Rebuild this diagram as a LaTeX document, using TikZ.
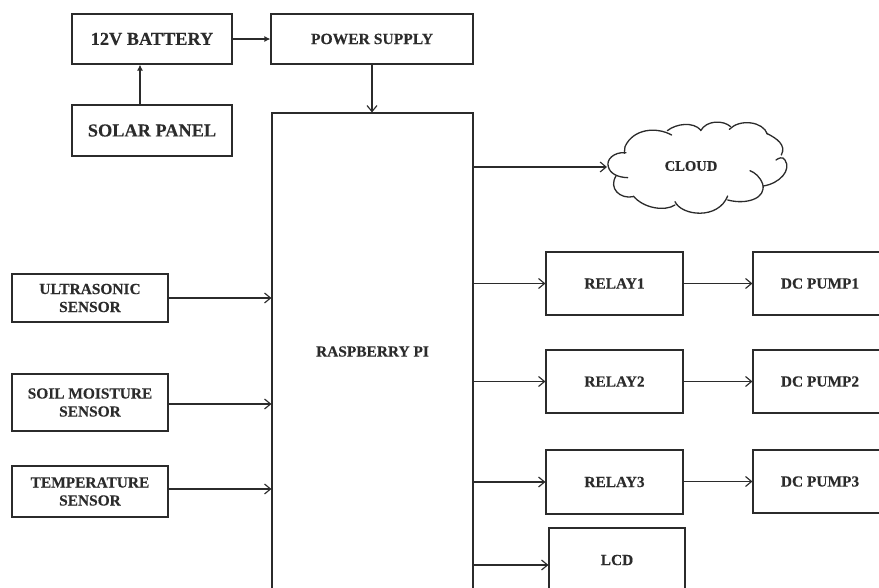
\documentclass[tikz,border=0pt]{standalone}
\usepackage{fontspec}
\setmainfont{Liberation Serif}[BoldFeatures={FakeBold=0.25}]
\usetikzlibrary{arrows.meta}
\definecolor{ink}{HTML}{2B2B2B}
\tikzset{
  blk/.style={draw=ink,line width=1.15pt,inner sep=0pt,text=ink,align=center,font=\bfseries\fontsize{15.4}{18}\selectfont},
  big/.style={font=\bfseries\fontsize{18.3}{20}\selectfont},
  mid/.style={font=\bfseries\fontsize{15.6}{18}\selectfont},
  barb/.style={draw=ink,line width=1.15pt,-{Straight Barb[length=6pt,width=10pt]}},
  solid tip/.style={draw=ink,line width=1.15pt,-{Latex[length=6pt,width=6pt]}},
  lobe/.style={draw=ink,line width=1.3pt,line cap=round}
}
\newcommand{\bx}[6][]{\node[blk,#1,minimum width=#4pt,minimum height=#5pt] (#2) at (#3) {#6};}
\begin{document}
\begin{tikzpicture}[x=1pt,y=-1pt]
\useasboundingbox (0,0) rectangle (879,587);
\clip (0,0) rectangle (879,587);
\bx[big]{bat}{152,39}{160}{50}{12V BATTERY}
\bx[big]{sol}{152,130.5}{160}{51}{SOLAR PANEL}
\bx[mid]{pow}{372,39}{202}{50}{POWER SUPPLY}
\bx{rpi}{372.5,351.5}{201}{477}{RASPBERRY PI}
\bx{us}{90,298}{156}{48}{ULTRASONIC\\SENSOR}
\bx{soil}{90,402.5}{156}{57}{SOIL MOISTURE\\SENSOR}
\bx{temp}{90,491.5}{156}{51}{TEMPERATURE\\SENSOR}
\bx{r1}{614.5,283.5}{137}{63}{RELAY1}
\bx{r2}{614.5,381.5}{137}{63}{RELAY2}
\bx{r3}{614.5,482}{137}{64}{RELAY3}
\bx{lcd}{617,560}{136}{64}{LCD}
\bx{p1}{820,283.5}{134}{63}{DC PUMP1}
\bx{p2}{820,381.5}{134}{63}{DC PUMP2}
\bx{p3}{820,481.5}{134}{63}{DC PUMP3}
\node[inner sep=0pt,text=ink,font=\bfseries\fontsize{14.6}{16}\selectfont] (cl) at (691,166) {CLOUD};
\coordinate (clin) at (607,167);
\begin{scope}[shift={(590,110)},scale=0.3333]
\draw[lobe] (108,128) .. controls (70,125) and (48,150) .. (55,170) .. controls (60,192) and (85,202) .. (113,203);
\draw[lobe] (78,198) .. controls (55,235) and (90,268) .. (130,260);
\draw[lobe] (130,258) .. controls (160,295) and (225,305) .. (255,285);
\draw[lobe] (255,275) .. controls (275,318) and (385,330) .. (413,258);
\draw[lobe] (413,270) .. controls (470,285) and (530,265) .. (518,222) .. controls (510,200) and (495,188) .. (480,182);
\draw[lobe] (520,228) .. controls (570,220) and (605,180) .. (585,150) .. controls (578,138) and (565,145) .. (558,150);
\draw[lobe] (574,135) .. controls (590,105) and (560,85) .. (530,70);
\draw[lobe] (532,72) .. controls (520,35) and (450,25) .. (418,58);
\draw[lobe] (422,50) .. controls (400,30) and (350,30) .. (332,62);
\draw[lobe] (332,60) .. controls (310,35) and (260,40) .. (232,62);
\draw[lobe] (245,75) .. controls (200,50) and (130,55) .. (105,110) -- (103,130);
\end{scope}
\draw[solid tip] (bat.east) -- (pow.west);
\draw[solid tip] ([xshift=-12pt]sol.north) -- ([xshift=-12pt]bat.south);
\draw[barb] (pow.south) -- (pow.south |- rpi.north);
\draw[barb] (rpi.east |- clin) -- (clin);
\draw[barb] (us.east) -- (us.east -| rpi.west);
\draw[barb] ([yshift=-1.5pt]soil.east) -- ([yshift=-1.5pt]soil.east -| rpi.west);
\draw[barb] ([yshift=2.5pt]temp.east) -- ([yshift=2.5pt]temp.east -| rpi.west);
\draw[barb] (r1.west -| rpi.east) -- (r1.west);
\draw[barb] (r2.west -| rpi.east) -- (r2.west);
\draw[barb] (r3.west -| rpi.east) -- (r3.west);
\draw[barb] ([yshift=-5pt]lcd.west -| rpi.east) -- ([yshift=-5pt]lcd.west);
\draw[barb] (r1.east) -- (p1.west);
\draw[barb] (r2.east) -- (p2.west);
\draw[barb] (r3.east |- p3.west) -- (p3.west);
\end{tikzpicture}
\end{document}
